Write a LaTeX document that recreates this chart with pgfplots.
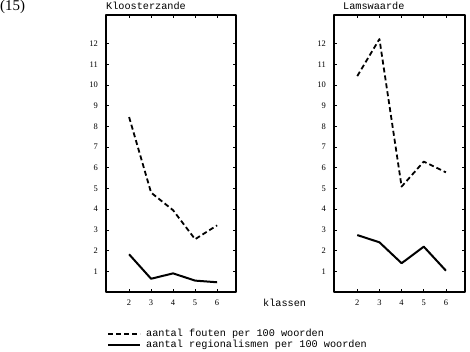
\documentclass[border=0pt]{standalone}
\usepackage{fontspec}
\setmainfont{Liberation Serif}
\newfontfamily\mono{Liberation Mono}
\usepackage{pgfplots}
\pgfplotsset{compat=1.18}
\begin{document}
\begin{tikzpicture}
\useasboundingbox (0bp,0bp) rectangle (470bp,352bp);
\pgfplotsset{
 panel/.style={
  scale only axis, width=130bp, height=277bp,
  xmin=0.95, xmax=6.86, ymin=0, ymax=13.38,
  xtick={2,...,6}, ytick={1,...,12},
  axis line style={line width=2bp, line join=round},
  tick style={black, line width=0.6bp},
  major tick length=3bp,
  tick align=inside,
  /pgf/number format/assume math mode=true,
  tick label style={font=\fontsize{8.5}{9}\selectfont, inner sep=0pt},
  yticklabel style={xshift=-8bp},
  xticklabel style={yshift=-8bp},
 },
 fout/.style={black, no marks, line width=1.8bp, line join=round, dash pattern=on 5bp off 3bp},
 regio/.style={black, no marks, line width=2bp, line join=round, solid},
}
\begin{axis}[panel, at={(106bp,60bp)}, anchor=south west,
  legend style={at={(0.008,-0.13)}, anchor=north west, draw=none, fill=none,
    inner sep=0pt, font=\mono\fontsize{10.25}{11}\selectfont, cells={anchor=west},
    row sep=0pt, nodes={inner sep=0pt, text height=8bp, text depth=3.5bp}},
  legend image code/.code={\draw[#1] (0bp,0bp) -- (32bp,0bp);},
  /tikz/every odd column/.append style={column sep=5bp},
]
\addplot[fout] coordinates {(2,8.45) (3,4.8) (4,3.95) (5,2.55) (6,3.22)};
\addlegendentry{aantal fouten per 100 woorden}
\addplot[regio] coordinates {(2,1.82) (3,0.64) (4,0.9) (5,0.55) (6,0.47)};
\addlegendentry{aantal regionalismen per 100 woorden}
\end{axis}
\begin{axis}[panel, at={(334bp,60bp)}, anchor=south west, width=131bp]
\addplot[fout] coordinates {(2,10.43) (3,12.22) (4,5.09) (5,6.3) (6,5.78)};
\addplot[regio] coordinates {(2,2.75) (3,2.4) (4,1.39) (5,2.19) (6,1.03)};
\end{axis}
\node[anchor=west, inner sep=0pt, font=\fontsize{15}{17}\selectfont] at (0bp,345bp) {(15)};
\node[anchor=west, inner sep=0pt, font=\mono\fontsize{10.25}{12}\selectfont] at (106bp,346bp) {Kloosterzande};
\node[anchor=west, inner sep=0pt, font=\mono\fontsize{10.25}{12}\selectfont] at (343bp,346bp) {Lamswaarde};
\node[anchor=west, inner sep=0pt, font=\mono\fontsize{10.25}{12}\selectfont] at (263bp,49bp) {klassen};
\end{tikzpicture}
\end{document}
